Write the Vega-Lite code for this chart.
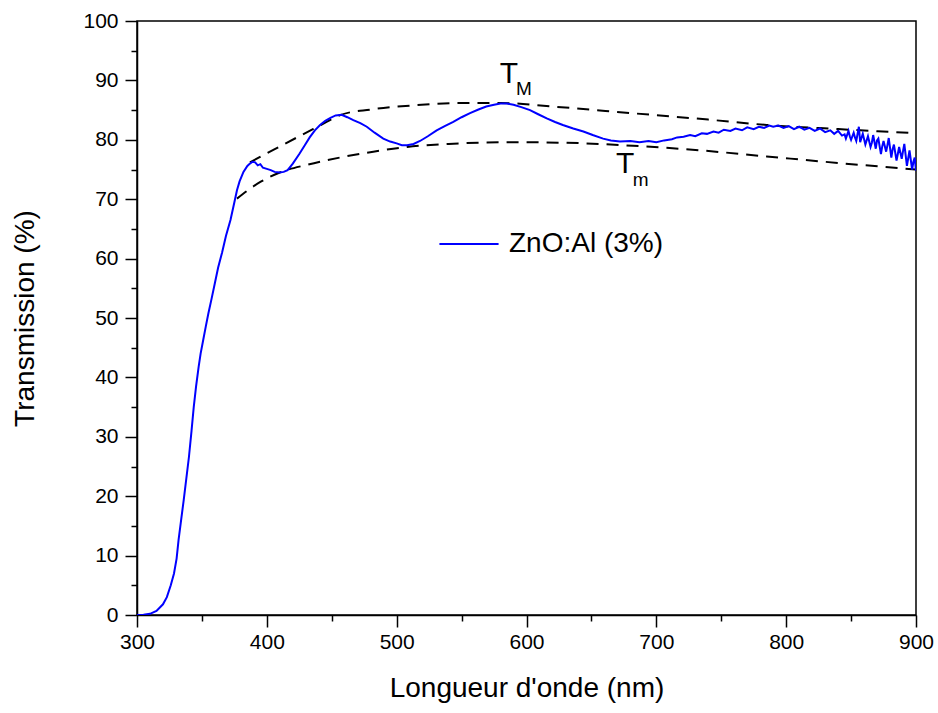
{
  "$schema": "https://vega.github.io/schema/vega-lite/v6.json",
  "width": 779,
  "height": 594,
  "autosize": "none",
  "padding": {"left": 137, "top": 21, "right": 22, "bottom": 98},
  "background": "white",
  "config": {
    "font": "Liberation Sans",
    "view": {"stroke": "black", "strokeWidth": 1.5},
    "axis": {"grid": false, "domainColor": "black", "tickColor": "black", "domainWidth": 1.5, "tickWidth": 1.5, "labelColor": "black", "titleColor": "black", "labelFont": "Liberation Sans", "titleFont": "Liberation Sans", "titleFontWeight": "normal", "labelFlush": false, "labelOverlap": false}
  },
  "datasets": {
    "curve": [
      {"wl":300,"T":0},{"wl":305,"T":0.05},{"wl":310,"T":0.2},{"wl":315,"T":0.7},{"wl":320,"T":1.8},{"wl":323,"T":3},{"wl":326,"T":5},{"wl":328.5,"T":7},{"wl":330.5,"T":9.5},{"wl":332,"T":12.6},{"wl":334,"T":16},{"wl":336,"T":19.4},{"wl":338,"T":23},{"wl":340,"T":26.6},{"wl":342,"T":31},{"wl":343.7,"T":35},{"wl":345.5,"T":38.5},{"wl":347.5,"T":41.8},{"wl":349,"T":44},{"wl":351,"T":46.3},{"wl":353,"T":48.6},{"wl":355,"T":50.8},{"wl":357.5,"T":53.3},{"wl":360,"T":55.9},{"wl":362.5,"T":58.5},{"wl":365.5,"T":61},{"wl":368.5,"T":63.8},{"wl":372,"T":66.5},{"wl":375,"T":69.5},{"wl":377,"T":71.5},{"wl":379,"T":73},{"wl":382,"T":74.6},{"wl":385,"T":75.6},{"wl":387,"T":76},{"wl":389,"T":76.3},{"wl":391,"T":76.2},{"wl":393,"T":75.7},{"wl":395,"T":75.9},{"wl":397,"T":75.3},{"wl":400,"T":75.1},{"wl":403,"T":74.9},{"wl":406,"T":74.6},{"wl":410,"T":74.5},{"wl":413,"T":74.6},{"wl":416,"T":74.9},{"wl":420,"T":76},{"wl":425,"T":77.6},{"wl":429,"T":79},{"wl":433,"T":80.4},{"wl":437,"T":81.6},{"wl":441,"T":82.5},{"wl":445,"T":83.2},{"wl":449,"T":83.7},{"wl":453,"T":84.1},{"wl":457.6,"T":84.2},{"wl":462,"T":83.8},{"wl":466.6,"T":83.3},{"wl":472,"T":82.8},{"wl":477,"T":82.2},{"wl":483,"T":81.2},{"wl":489.7,"T":80.2},{"wl":495,"T":79.7},{"wl":500,"T":79.4},{"wl":504,"T":79.1},{"wl":508,"T":79.1},{"wl":513,"T":79.3},{"wl":518,"T":79.8},{"wl":524,"T":80.6},{"wl":530.8,"T":81.6},{"wl":537,"T":82.3},{"wl":543.6,"T":83},{"wl":550,"T":83.8},{"wl":556.5,"T":84.5},{"wl":563,"T":85.1},{"wl":569,"T":85.6},{"wl":575,"T":85.9},{"wl":580,"T":86.1},{"wl":585,"T":86.1},{"wl":590,"T":85.9},{"wl":596,"T":85.5},{"wl":602.7,"T":85},{"wl":609,"T":84.3},{"wl":615.6,"T":83.6},{"wl":622,"T":83},{"wl":628,"T":82.5},{"wl":636,"T":81.9},{"wl":643.8,"T":81.4},{"wl":651,"T":80.8},{"wl":659,"T":80.2},{"wl":665,"T":79.9},{"wl":672,"T":79.7},{"wl":680,"T":79.8},{"wl":687,"T":79.6},{"wl":694,"T":79.8},{"wl":700,"T":79.6},{"wl":706,"T":79.9},{"wl":712,"T":80.1},{"wl":716,"T":80.4},{"wl":721,"T":80.5},{"wl":726,"T":80.8},{"wl":730,"T":80.6},{"wl":735,"T":81.1},{"wl":739,"T":81.0},{"wl":744,"T":81.4},{"wl":748,"T":81.2},{"wl":752,"T":81.7},{"wl":757,"T":81.5},{"wl":761,"T":81.9},{"wl":766,"T":81.6},{"wl":770,"T":82.1},{"wl":775,"T":81.8},{"wl":779,"T":82.2},{"wl":783,"T":82.0},{"wl":787,"T":82.4},{"wl":790,"T":82.2},{"wl":794,"T":82.4},{"wl":798,"T":82.0},{"wl":802,"T":82.3},{"wl":806,"T":81.8},{"wl":810,"T":82.2},{"wl":814,"T":81.7},{"wl":818,"T":82.0},{"wl":822,"T":81.5},{"wl":826,"T":81.9},{"wl":830,"T":81.3},{"wl":834,"T":81.6},{"wl":837,"T":81.0},{"wl":840,"T":81.5},{"wl":843,"T":80.7},{"wl":845,"T":80.9},{"wl":846,"T":80.2},{"wl":848,"T":81.5},{"wl":849,"T":80.6},{"wl":850,"T":80.0},{"wl":852,"T":81.2},{"wl":853,"T":80.4},{"wl":854,"T":79.8},{"wl":856,"T":82.2},{"wl":857,"T":79.6},{"wl":858,"T":80.3},{"wl":859,"T":81.0},{"wl":861,"T":79.2},{"wl":862,"T":79.9},{"wl":863,"T":80.6},{"wl":865,"T":78.8},{"wl":866,"T":79.5},{"wl":867,"T":80.8},{"wl":869,"T":78.5},{"wl":870,"T":79.9},{"wl":871,"T":80.2},{"wl":873,"T":77.6},{"wl":874,"T":78.9},{"wl":875,"T":79.8},{"wl":877,"T":78.0},{"wl":878,"T":79.1},{"wl":879,"T":80.3},{"wl":881,"T":77.0},{"wl":882,"T":78.4},{"wl":883,"T":79.2},{"wl":885,"T":76.5},{"wl":886,"T":77.6},{"wl":887,"T":78.8},{"wl":889,"T":76.8},{"wl":890,"T":78.1},{"wl":891,"T":79.3},{"wl":893,"T":75.6},{"wl":894,"T":76.9},{"wl":895,"T":78.2},{"wl":897,"T":75.0},{"wl":898,"T":76.3},{"wl":899,"T":77.0},{"wl":900,"T":74.8}
    ],
    "upper": [
      {"wl":387,"T":76.2},{"wl":405,"T":78.3},{"wl":425,"T":80.6},{"wl":441,"T":82.4},{"wl":457,"T":84.2},{"wl":480,"T":85.1},{"wl":513,"T":85.8},{"wl":550,"T":86.2},{"wl":580,"T":86.2},{"wl":620,"T":85.6},{"wl":680,"T":84.5},{"wl":740,"T":83.4},{"wl":785,"T":82.5},{"wl":840,"T":81.8},{"wl":900,"T":81.1}
    ],
    "lower": [
      {"wl":377,"T":70.1},{"wl":395,"T":72.9},{"wl":410,"T":74.5},{"wl":431,"T":75.8},{"wl":456,"T":77},{"wl":482,"T":78},{"wl":508,"T":78.8},{"wl":540,"T":79.3},{"wl":585,"T":79.6},{"wl":630,"T":79.5},{"wl":682,"T":79},{"wl":735,"T":78.2},{"wl":785,"T":77.2},{"wl":840,"T":76.1},{"wl":900,"T":75}
    ]
  },
  "resolve": {"axis": {"x": "independent", "y": "independent"}},
  "layer": [
    {
      "data": {"name": "upper"},
      "mark": {"type": "line", "color": "black", "strokeDash": [12, 8], "strokeWidth": 2, "interpolate": "monotone", "clip": true},
      "encoding": {
        "x": {"field": "wl", "type": "quantitative", "scale": {"domain": [300, 900], "nice": false}, "axis": {"orient": "bottom", "values": [350, 450, 550, 650, 750, 850], "labels": false, "domain": false, "tickSize": 6, "title": null}},
        "y": {"field": "T", "type": "quantitative", "scale": {"domain": [0, 100], "nice": false}, "axis": {"orient": "left", "values": [5, 15, 25, 35, 45, 55, 65, 75, 85, 95], "labels": false, "domain": false, "tickSize": 6, "title": null}}
      }
    },
    {
      "data": {"name": "lower"},
      "mark": {"type": "line", "color": "black", "strokeDash": [12, 8], "strokeWidth": 2, "interpolate": "monotone", "clip": true},
      "encoding": {
        "x": {"field": "wl", "type": "quantitative", "axis": null},
        "y": {"field": "T", "type": "quantitative", "axis": null}
      }
    },
    {
      "data": {"name": "curve"},
      "transform": [{"calculate": "'ZnO:Al (3%)'", "as": "series"}],
      "mark": {"type": "line", "strokeWidth": 2, "clip": true},
      "encoding": {
        "x": {"field": "wl", "type": "quantitative", "axis": {"orient": "bottom", "values": [300, 400, 500, 600, 700, 800, 900], "tickSize": 12, "labelFontSize": 21, "labelPadding": 4, "title": "Longueur d'onde (nm)", "titleFontSize": 28, "titlePadding": 22}},
        "y": {"field": "T", "type": "quantitative", "axis": {"orient": "left", "values": [0, 10, 20, 30, 40, 50, 60, 70, 80, 90, 100], "tickSize": 12, "labelFontSize": 21, "labelPadding": 7, "title": "Transmission (%)", "titleFontSize": 28, "titlePadding": 43}},
        "color": {"field": "series", "type": "nominal", "scale": {"range": ["#0000ff"]}, "legend": {"orient": "none", "legendX": 301, "legendY": 192, "title": null, "symbolType": "stroke", "symbolSize": 3500, "symbolStrokeWidth": 2, "labelFontSize": 28, "labelColor": "black", "labelOffset": 9}}
      }
    },
    {
      "data": {"values": [{"wl": 586.5, "T": 91, "t": "T"}, {"wl": 676, "T": 75.9, "t": "T"}]},
      "mark": {"type": "text", "fontSize": 30, "color": "black", "align": "center", "baseline": "middle"},
      "encoding": {
        "x": {"field": "wl", "type": "quantitative", "axis": null},
        "y": {"field": "T", "type": "quantitative", "axis": null},
        "text": {"field": "t"}
      }
    },
    {
      "data": {"values": [{"wl": 598, "T": 88.6, "t": "M"}, {"wl": 688, "T": 73.2, "t": "m"}]},
      "mark": {"type": "text", "fontSize": 19, "color": "black", "align": "center", "baseline": "middle"},
      "encoding": {
        "x": {"field": "wl", "type": "quantitative", "axis": null},
        "y": {"field": "T", "type": "quantitative", "axis": null},
        "text": {"field": "t"}
      }
    }
  ]
}
